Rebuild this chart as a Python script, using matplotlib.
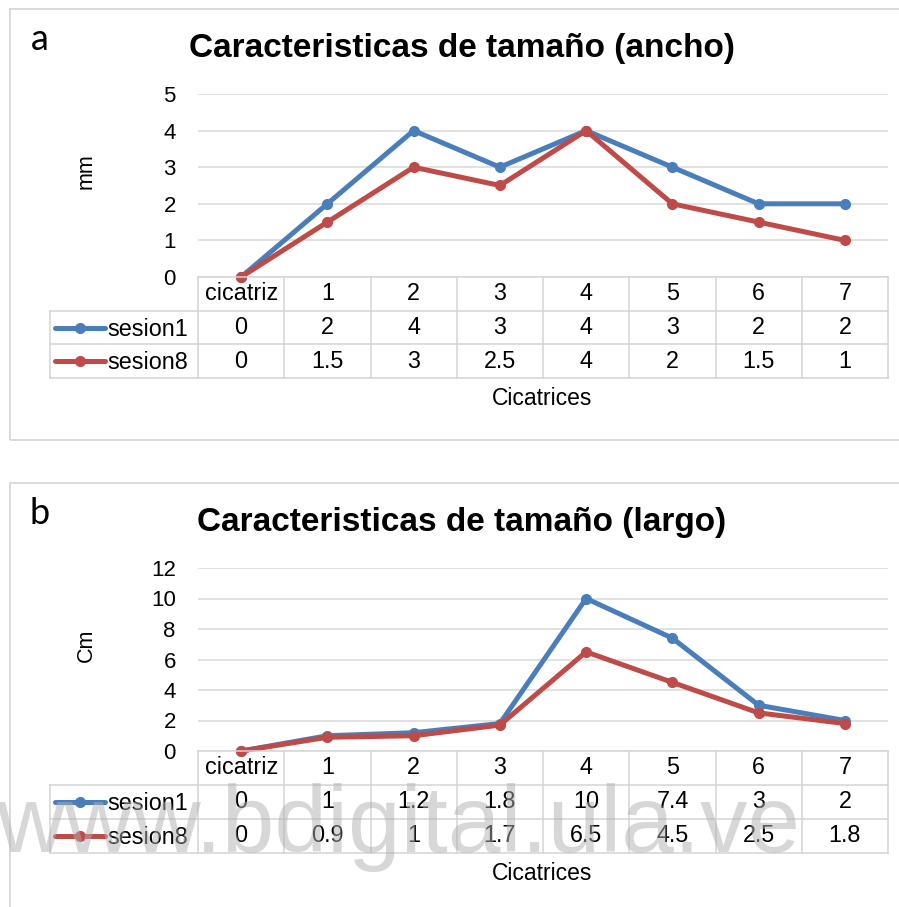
import matplotlib
matplotlib.use('Agg')
import matplotlib.pyplot as plt
from matplotlib.patches import Rectangle
from matplotlib.lines import Line2D

# Data
categories = ["cicatriz", "1", "2", "3", "4", "5", "6", "7"]
series_names = ["sesion1", "sesion8"]

ancho_sesion1 = [0, 2, 4, 3, 4, 3, 2, 2]
ancho_sesion8 = [0, 1.5, 3, 2.5, 4, 2, 1.5, 1]
ancho_labels1 = ["0", "2", "4", "3", "4", "3", "2", "2"]
ancho_labels8 = ["0", "1.5", "3", "2.5", "4", "2", "1.5", "1"]

largo_sesion1 = [0, 1, 1.2, 1.8, 10, 7.4, 3, 2]
largo_sesion8 = [0, 0.9, 1, 1.7, 6.5, 4.5, 2.5, 1.8]
largo_labels1 = ["0", "1", "1.2", "1.8", "10", "7.4", "3", "2"]
largo_labels8 = ["0", "0.9", "1", "1.7", "6.5", "4.5", "2.5", "1.8"]

# Styles
W, H = 899, 907
BLUE = "#4A7EBB"
RED = "#BE4B48"
GRID = "#d9d9d9"
BORDER = "#d4d4d4"
FONT = "Liberation Sans"

plt.rcParams['font.family'] = [FONT, 'DejaVu Sans']

fig = plt.figure(figsize=(W / 100, H / 100), dpi=100)


def fx(px):
    return px / W


def fy(py):
    return 1 - py / H


def draw_panel(letter, title, ylabel, ymax, ystep, s1, s8, lab1, lab8, layout):
    top, zero, rowh, frame_top, frame_bot = layout
    left, right, leg_left = 198, 888, 50

    # frame
    fig.patches.append(Rectangle((fx(10), fy(frame_bot)), fx(905) - fx(10),
                                 fy(frame_top) - fy(frame_bot),
                                 transform=fig.transFigure, fill=False,
                                 edgecolor=BORDER, linewidth=1.2, zorder=0))

    ax = fig.add_axes([fx(left), fy(zero), fx(right) - fx(left), fy(top) - fy(zero)])
    x = list(range(len(categories)))
    ax.plot(x, s1, color=BLUE, lw=3.6, marker='o', ms=7, zorder=3, clip_on=False)
    ax.plot(x, s8, color=RED, lw=3.6, marker='o', ms=7, zorder=4, clip_on=False)
    ax.set_xlim(-0.5, len(categories) - 0.5)
    ax.set_ylim(0, ymax)
    ax.set_yticks(range(0, ymax + 1, ystep))
    ax.set_xticks([])
    ax.tick_params(axis='y', length=0, pad=16, labelsize=16)
    ax.yaxis.grid(True, color=GRID, lw=1.1)
    ax.set_axisbelow(True)
    for sp in ax.spines.values():
        sp.set_visible(False)

    # table axes, x aligned with plot columns
    colw = (right - left) / len(categories)
    tab = fig.add_axes([fx(leg_left), fy(zero + 3 * rowh),
                        fx(right) - fx(leg_left), fy(zero) - fy(zero + 3 * rowh)])
    tab.set_xlim(-0.5 - (left - leg_left) / colw, len(categories) - 0.5)
    tab.set_ylim(3, 0)
    tab.axis('off')
    xl = -0.5 - (left - leg_left) / colw
    n = len(categories)
    kw = dict(color=BORDER, lw=1.1, clip_on=False)
    tab.plot([-0.5, n - 0.5], [0, 0], **kw)
    for r in (1, 2, 3):
        tab.plot([xl, n - 0.5], [r, r], **kw)
    tab.plot([xl, xl], [1, 3], **kw)
    for c in range(n + 1):
        tab.plot([c - 0.5, c - 0.5], [0, 3], **kw)

    tsize = 16.8
    for i, cat in enumerate(categories):
        tab.text(i, 0.5, cat, ha='center', va='center', fontsize=tsize)
        tab.text(i, 1.5, lab1[i], ha='center', va='center', fontsize=tsize)
        tab.text(i, 2.5, lab8[i], ha='center', va='center', fontsize=tsize)

    # legend keys inside table
    key0 = xl + 5 / colw
    key1 = xl + 55 / colw
    for r, (name, col) in enumerate(zip(series_names, [BLUE, RED])):
        tab.add_line(Line2D([key0, key1], [r + 1.5, r + 1.5], color=col, lw=3.6,
                            solid_capstyle='round', clip_on=False))
        tab.plot([(key0 + key1) / 2], [r + 1.5], 'o', color=col, ms=7, clip_on=False)
        tab.text(key1 + 2 / colw, r + 1.55, name, ha='left', va='center', fontsize=tsize)

    fig.text(fx(542), fy(zero + 3 * rowh + 20), "Cicatrices", ha='center', va='center',
             fontsize=16.5)
    fig.text(fx(86), fy((top + zero) / 2 - 14), ylabel, rotation=90, ha='center',
             va='center', fontsize=15.5)
    fig.text(fx(462), fy(frame_top + 40), title, ha='center', va='center',
             fontsize=24, fontweight='bold')
    fig.text(fx(40), fy(frame_top + 31), letter, ha='center', va='center',
             fontsize=26, family=['Lato', 'DejaVu Sans'])


draw_panel("a", "Caracteristicas de tamaño (ancho)", "mm", 5, 1,
           ancho_sesion1, ancho_sesion8, ancho_labels1, ancho_labels8,
           (94, 277, 33.7, 9, 440))
draw_panel("b", "Caracteristicas de tamaño (largo)", "Cm", 12, 2,
           largo_sesion1, largo_sesion8, largo_labels1, largo_labels8,
           (568, 751, 34, 483, 915))

# watermark
fig.text(fx(-4), fy(852), "www.bdigital.ula.ve", ha='left', va='baseline',
         fontsize=68, color='#b0b0b0', alpha=0.5, zorder=10)

fig.savefig("out.png", dpi=100)
